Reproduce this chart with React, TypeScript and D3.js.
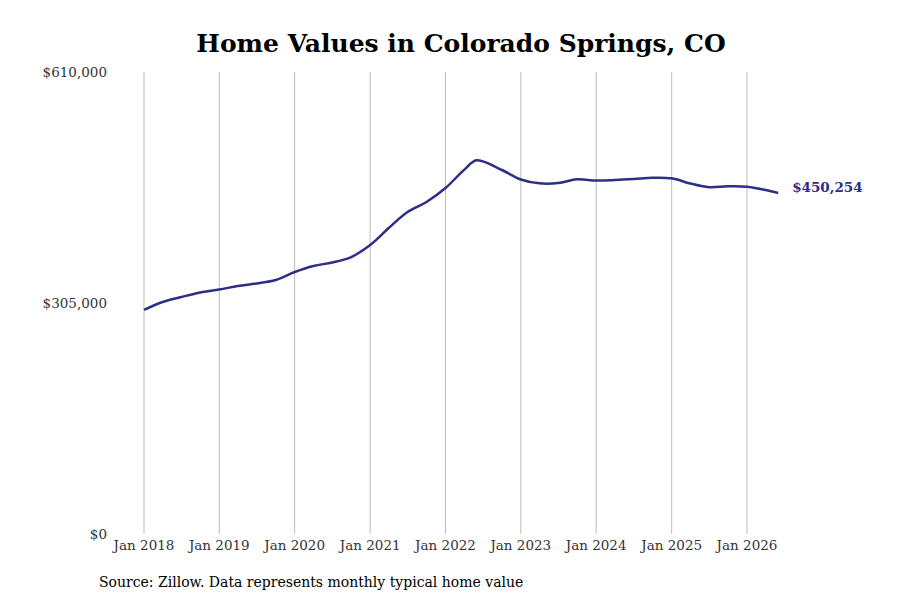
import * as d3 from "d3";
import { useEffect, useRef } from "react";

// quarterly readings, months counted from Jan 2018
const months = [
  0, 3, 6, 9, 12, 15, 18, 21, 24, 27, 30, 33, 36, 39, 42, 45, 48, 51, 53, 57,
  60, 63, 66, 69, 72, 75, 78, 81, 84, 87, 90, 93, 96, 99, 101,
];
const values = [
  295800, 306300, 312900, 318900, 322800, 327400, 330800, 335400, 345900,
  353900, 358500, 365700, 381600, 404100, 425200, 438400, 456800, 480800,
  493500, 480600, 468100, 463000, 463400, 468300, 466700, 467400, 468700,
  470400, 469600, 462800, 457900, 459100, 458600, 454200, 450254,
];
const tickYears = [2018, 2019, 2020, 2021, 2022, 2023, 2024, 2025, 2026];
const yTicks = [0, 305000, 610000];

const font = "'DejaVu Serif', serif";
const lineColor = "#2e2e86";

export default function App() {
  const ref = useRef<SVGSVGElement>(null);

  useEffect(() => {
    if (!ref.current) return;
    const svg = d3.select(ref.current);
    svg.selectAll("*").remove();

    const data = months.map((m, i) => ({
      date: new Date(2018, m, 1),
      value: values[i],
    }));

    const x = d3
      .scaleTime()
      .domain([new Date(2018, 0, 1), new Date(2026, 0, 1)])
      .range([144, 747]);
    const y = d3.scaleLinear().domain([0, 610000]).range([534, 72]);

    svg
      .append("text")
      .attr("x", 461)
      .attr("y", 52)
      .attr("text-anchor", "middle")
      .attr("font-family", font)
      .attr("font-weight", "bold")
      .attr("font-size", 25)
      .attr("fill", "#000")
      .text("Home Values in Colorado Springs, CO");

    const ticks = tickYears.map((yr) => new Date(yr, 0, 1));
    svg
      .append("g")
      .selectAll("line")
      .data(ticks)
      .join("line")
      .attr("x1", (d) => x(d))
      .attr("x2", (d) => x(d))
      .attr("y1", 72)
      .attr("y2", 534)
      .attr("stroke", "#bdbdbd")
      .attr("stroke-width", 1);

    svg
      .append("g")
      .selectAll("text")
      .data(ticks)
      .join("text")
      .attr("x", (d) => x(d))
      .attr("y", 550)
      .attr("text-anchor", "middle")
      .attr("font-family", font)
      .attr("font-size", 13.5)
      .attr("fill", "#333")
      .text((d) => d3.timeFormat("Jan %Y")(d));

    svg
      .append("g")
      .selectAll("text")
      .data(yTicks)
      .join("text")
      .attr("x", 107)
      .attr("y", (d) => y(d))
      .attr("dy", "0.35em")
      .attr("text-anchor", "end")
      .attr("font-family", font)
      .attr("font-size", 13.5)
      .attr("fill", "#333")
      .text((d) => "$" + d3.format(",")(d));

    const line = d3
      .line<{ date: Date; value: number }>()
      .x((d) => x(d.date))
      .y((d) => y(d.value))
      .curve(d3.curveCatmullRom.alpha(0.5));

    svg
      .append("path")
      .datum(data)
      .attr("fill", "none")
      .attr("stroke", lineColor)
      .attr("stroke-width", 2.5)
      .attr("stroke-linejoin", "round")
      .attr("d", line);

    const last = data[data.length - 1];
    svg
      .append("text")
      .attr("x", x(last.date) + 14)
      .attr("y", y(last.value) - 6)
      .attr("dy", "0.35em")
      .attr("font-family", font)
      .attr("font-weight", "bold")
      .attr("font-size", 13.5)
      .attr("fill", lineColor)
      .text("$" + d3.format(",")(last.value));

    svg
      .append("text")
      .attr("x", 99)
      .attr("y", 587)
      .attr("font-family", font)
      .attr("font-size", 14)
      .attr("fill", "#000")
      .text("Source: Zillow. Data represents monthly typical home value");
  }, []);

  return (
    <div style={{ position: "absolute", left: 0, top: 0 }}>
      <svg ref={ref} width={900} height={600} style={{ display: "block" }} />
    </div>
  );
}
